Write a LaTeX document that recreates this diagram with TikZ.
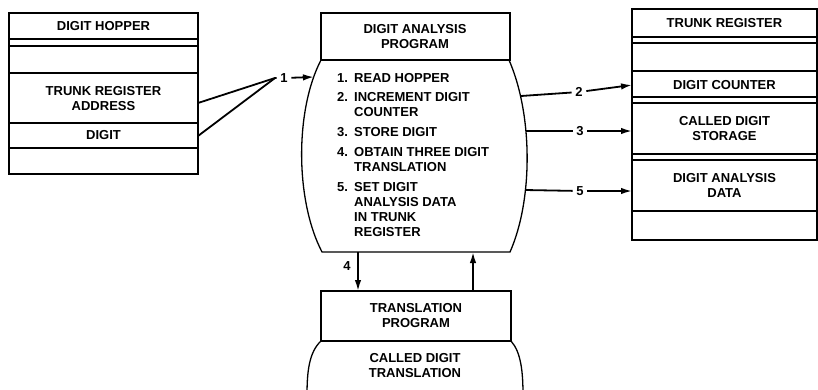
\documentclass[tikz,border=0pt]{standalone}
\usepackage{fontspec}
\setmainfont{Liberation Sans}
\usetikzlibrary{arrows.meta}
\begin{document}
\begin{tikzpicture}[x=1pt,y=-1pt,
  box/.style={draw,line width=1.3pt},
  txt/.style={font=\fontsize{13}{15}\selectfont\bfseries,align=center,inner sep=0pt},
  itm/.style={font=\fontsize{13}{15}\selectfont\bfseries,align=left,inner sep=0pt,anchor=west},
  lbl/.style={font=\fontsize{13}{15}\selectfont\bfseries,inner sep=3.5pt},
  conn/.style={line width=1.8pt},
  arr/.style={conn,-{Latex[length=11pt,width=6.5pt]}}]
\useasboundingbox (0,0) rectangle (818,389);
\clip (0,0) rectangle (818,389);

% Digit hopper
\draw[box] (9,13) rectangle (198,174);
\foreach \y in {39,46,73,123,148} \draw[box] (9,\y) -- (198,\y);
\node[txt] (hop) at (103.5,26) {DIGIT HOPPER};
\node[txt] (tra) at (103.5,98.5) {TRUNK REGISTER\\ADDRESS};
\node[txt] (dig) at (103.5,135.5) {DIGIT};

% Digit analysis program
\draw[box] (321,13) rectangle (510,60);
\draw[box] (321,60) .. controls (295,110) and (295,200) .. (322,252) -- (510,252) .. controls (533,200) and (533,115) .. (509,60);
\node[txt] (dap) at (415,36.5) {DIGIT ANALYSIS\\PROGRAM};
\node[itm] (i1) at (337,78) {\makebox[17pt][l]{1.}READ HOPPER};
\node[itm] (i2) at (337,104.5) {\makebox[17pt][l]{2.}INCREMENT DIGIT\\\hspace*{17pt}COUNTER};
\node[itm] (i3) at (337,132) {\makebox[17pt][l]{3.}STORE DIGIT};
\node[itm] (i4) at (337,159.5) {\makebox[17pt][l]{4.}OBTAIN THREE DIGIT\\\hspace*{17pt}TRANSLATION};
\node[itm] (i5) at (337,210) {\makebox[17pt][l]{5.}SET DIGIT\\\hspace*{17pt}ANALYSIS DATA\\\hspace*{17pt}IN TRUNK\\\hspace*{17pt}REGISTER};

% Trunk register
\draw[box] (632,9) rectangle (817,240);
\foreach \y in {37,43,71,97,103,154,160,211} \draw[box] (632,\y) -- (817,\y);
\node[txt] (tr) at (724.5,23) {TRUNK REGISTER};
\node[txt] (dc) at (724.5,85) {DIGIT COUNTER};
\node[txt] (cds) at (724.5,128.5) {CALLED DIGIT\\STORAGE};
\node[txt] (dad) at (724.5,185) {DIGIT ANALYSIS\\DATA};

% Translation program
\draw[box] (321,291) rectangle (511,341);
\draw[box] (321,341) .. controls (309,352) and (307,372) .. (307,395);
\draw[box] (511,341) .. controls (521,352) and (523,372) .. (523,395);
\node[txt] (tp) at (416,316) {TRANSLATION\\PROGRAM};
\node[txt] (cdt) at (415,365.5) {CALLED DIGIT\\TRANSLATION};

% Connector coordinates
\coordinate (h1) at (198,103);
\coordinate (h2) at (198,136);
\coordinate (j1) at (275,78);
\coordinate (b1) at (314,77);
\coordinate (b2) at (521,96);
\coordinate (b3) at (526,131);
\coordinate (b5) at (525,190);
\coordinate (r2) at (632,85);
\coordinate (r3) at (632,131);
\coordinate (r5) at (632,191);
\coordinate (d1) at (358,252);
\coordinate (d2) at (358,291);
\coordinate (u1) at (473,291);
\coordinate (u2) at (473,252);

\node[lbl] (l1) at (284,78) {1};
\node[lbl] (l2) at (579,92) {2};
\node[lbl] (l3) at (580,131) {3};
\node[lbl] (l5) at (580,191) {5};
\node[lbl] (l4) at (347,266) {4};

\draw[conn] (h1) -- (j1) -- (l1);
\draw[conn] (h2) -- (j1);
\draw[arr] (l1) -- (b1);
\draw[conn] (b2) -- (l2);
\draw[arr] (l2) -- (r2);
\draw[conn] (b3) -- (l3);
\draw[arr] (l3) -- (r3);
\draw[conn] (b5) -- (l5);
\draw[arr] (l5) -- (r5);
\draw[arr] (d1) -- (d2);
\draw[arr] (u1) -- (u2);
\end{tikzpicture}
\end{document}
